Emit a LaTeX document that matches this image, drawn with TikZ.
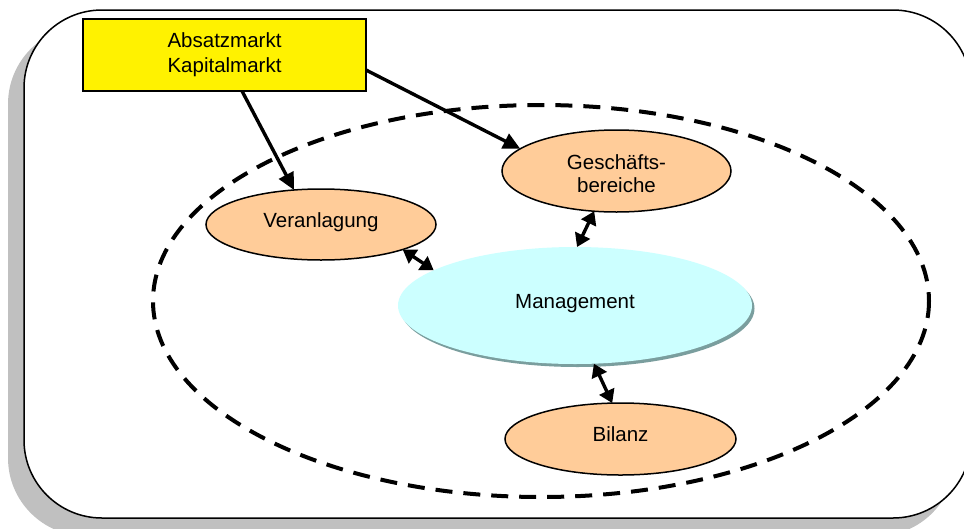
\documentclass[tikz,border=0pt]{standalone}
\usepackage{fontspec}
\setmainfont{Liberation Sans}
\usetikzlibrary{arrows.meta,shapes.geometric}
\definecolor{peach}{HTML}{FFCC99}
\definecolor{cyanlt}{HTML}{CCFFFF}
\definecolor{shadowgray}{HTML}{C0C0C0}
\definecolor{mgmtshadow}{HTML}{7A9E9E}
\begin{document}
\begin{tikzpicture}[x=1pt,y=-1pt,
  txt/.style={font=\fontsize{20.5}{23}\selectfont, inner sep=0pt},
  oval/.style={ellipse, draw, line width=1.5pt, fill=peach, inner sep=0pt, outer sep=0pt},
  mktbox/.style={draw, line width=1.5pt, fill=yellow, minimum width=283pt, minimum height=72pt,
    align=center, inner sep=0pt, outer sep=0pt, font=\fontsize{20.5}{25}\selectfont},
  arr/.style={line width=3.4pt, -{Triangle[width=16pt,length=17pt]}},
  darr/.style={line width=3.4pt, {Triangle[width=16pt,length=13pt]}-{Triangle[width=16pt,length=13pt]}},
  border/.style={fill=white, line width=1.5pt, rounded corners=78pt},
  outline/.style={line width=4pt, dash pattern=on 17pt off 11pt}
]
\useasboundingbox (0,0) rectangle (964,528);
\begin{scope}
  \clip (0,0) rectangle (964,528);
  \fill[shadowgray, rounded corners=78pt] (8,26) rectangle (955,536);
  \draw[border] (24,10) rectangle (971,518);
\end{scope}

\draw[outline] (541,301) ellipse [x radius=388, y radius=196];

\node[mktbox] (mkt) at (224.5,55) {Absatzmarkt\\Kapitalmarkt};

\node[oval, minimum width=230pt, minimum height=71pt] (ver) at (321,224.5) {};
\node[txt, anchor=base] (vertxt) at ([yshift=-2.5pt]ver.center) {Veranlagung};

\node[oval, minimum width=229pt, minimum height=82pt] (ges) at (616.5,171) {};
\node[txt, align=center, yshift=-3pt] (gestxt) at (ges) {Geschäfts-\\bereiche};

\fill[mgmtshadow] (577.5,308.5) ellipse [x radius=177, y radius=58.5];
\node[ellipse, fill=cyanlt, minimum width=354pt, minimum height=117pt, inner sep=0pt, outer sep=0pt] (mgmt) at (575,305.5) {};
\node[txt, anchor=base] (mgmttxt) at ([yshift=-2.5pt]mgmt.center) {Management};

\node[oval, minimum width=231pt, minimum height=72pt] (bil) at (620.5,439) {};
\node[txt, anchor=base] (biltxt) at ([yshift=-2pt]bil.center) {Bilanz};

\draw[arr] ([xshift=17.5pt]mkt.south) -- (ver.128);
\draw[arr] ([yshift=-15pt]mkt.east) -- (ges.167);
\draw[darr] (ver.-17) -- (mgmt.166);
\draw[darr] (ges.-119) -- (mgmt.88);
\draw[darr] (mgmt.-72) -- (bil.103);
\end{tikzpicture}
\end{document}
